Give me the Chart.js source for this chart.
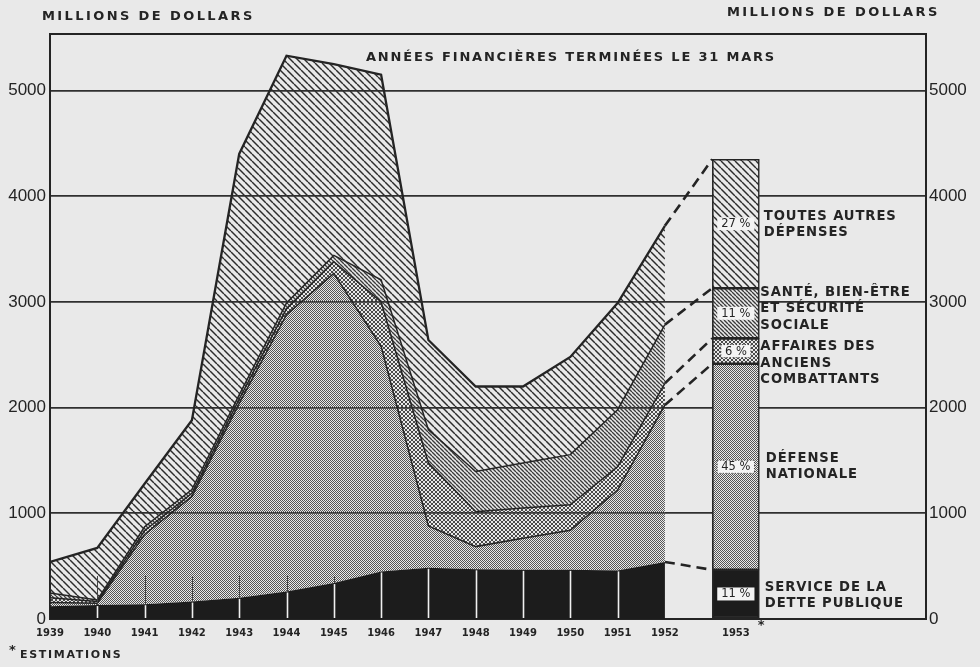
<!DOCTYPE html>
<html><head><meta charset="utf-8">
<script src="https://cdn.jsdelivr.net/npm/chart.js@4.4.1/dist/chart.umd.min.js"></script>
<style>html,body{margin:0;padding:0;background:#e9e9e9;}#wrap{width:980px;height:667px;position:relative}</style>
</head><body><div id="wrap"><canvas id="c" width="980" height="667"></canvas></div>
<script>
// ---- DATA (millions de dollars, années financières terminées le 31 mars) ----
const years    = [1939,1940,1941,1942,1943,1944,1945,1946,1947,1948,1949,1950,1951,1952];
const debt     = [ 120, 132, 140, 165, 200, 260, 340, 450, 485, 470, 465, 465, 460, 540]; // Service de la dette publique
const defense  = [  35,  18, 660, 995,1840,2620,2930,2130, 395, 215, 300, 375, 760,1485]; // Défense nationale
const veterans = [  45,  15,  35,  30,  40,  55, 110, 420, 595, 330, 285, 240, 220, 205]; // Affaires des anciens combattants
const health   = [  45,  15,  38,  35,  40,  55,  60, 210, 315, 380, 425, 475, 540, 555]; // Santé, bien-être et sécurité sociale
const others   = [ 295, 492, 407, 655,2280,2340,1810,1940, 850, 805, 725, 925,1010, 935]; // Toutes autres dépenses
// 1953 estimate bar, bottom to top: debt, defense, veterans, health, others
const estimateYear   = 1953;
const estimate1953   = [465, 1950, 240, 475, 1220];
const estimatePct    = ['11 %','45 %','6 %','11 %','27 %'];
const categoryLabels = [
  ['SERVICE DE LA','DETTE PUBLIQUE'],
  ['DÉFENSE','NATIONALE'],
  ['AFFAIRES DES','ANCIENS','COMBATTANTS'],
  ['SANTÉ, BIEN-ÊTRE','ET SÉCURITÉ','SOCIALE'],
  ['TOUTES AUTRES','DÉPENSES']
];
const yTicks = [0,1000,2000,3000,4000,5000];
const xTickLabels = years.map(String).concat([String(estimateYear)]);

// ---- styling helpers ----
const PAPER = '#e9e9e9';
const INK = '#242424';
function makePattern(kind, opaque){
  const c = document.createElement('canvas');
  const s = {coarse:7, fine:4, cross:4, stipple:2}[kind];
  c.width = c.height = s;
  const g = c.getContext('2d');
  if (opaque){ g.fillStyle = PAPER; g.fillRect(0,0,s,s); }
  if (kind==='stipple'){
    g.fillStyle = '#555'; g.fillRect(0,0,1,1); g.fillRect(1,1,1,1);
  } else {
    g.strokeStyle = kind==='coarse' ? '#2c2c2c' : (kind==='fine' ? '#3a3a3a' : '#4a4a4a');
    g.lineWidth = kind==='coarse' ? 1.45 : (kind==='fine' ? 1.35 : 1);
    g.beginPath();
    for (const k of [-1,0,1]){ g.moveTo(k*s,0); g.lineTo(k*s+s,s); }
    if (kind==='cross'){ for (const k of [-1,0,1]){ g.moveTo(k*s+s,0); g.lineTo(k*s,s); } }
    g.stroke();
  }
  return g.createPattern(c,'repeat');
}
const kinds = ['solid','stipple','cross','fine','coarse'];
const fillFor = (i,opaque) => i===0 ? '#1c1c1c' : makePattern(kinds[i], opaque);

// cumulative tops built from the series
const series = [debt, defense, veterans, health, others];
const cum = []; let run = years.map(()=>0);
series.forEach(a => { run = run.map((v,i)=>v+a[i]); cum.push(run.slice()); });
const estCum = []; let r2 = 0;
estimate1953.forEach(v => { r2 += v; estCum.push(r2); });
const barX = estimateYear + 0.5;

const datasets = [];
// stacked areas
series.forEach((a,k)=>{
  datasets.push({
    type:'line', data: years.map((yr,i)=>({x:yr, y:cum[k][i]})),
    fill: k===0 ? 'origin' : '-1', backgroundColor: fillFor(k,false),
    borderColor: k===0 ? 'rgba(0,0,0,0)' : INK, borderWidth: k===0 ? 0 : (k===4 ? 2.3 : 1.5),
    pointRadius:0, tension:0
  });
});
// 1953 bar segments
estimate1953.forEach((v,k)=>{
  datasets.push({
    type:'bar', data:[{x:barX, y:[k===0?0:estCum[k-1], estCum[k]]}],
    backgroundColor: fillFor(k,true), borderColor: INK, borderWidth:1.6, borderSkipped:false,
    barThickness:47, grouped:false
  });
});
// dashed connectors
series.forEach((a,k)=>{
  datasets.push({
    type:'line', data:[{x:years[years.length-1], y:cum[k][years.length-1]},{x:estimateYear, y:estCum[k]}],
    borderColor: INK, borderWidth:2.6, borderDash:[10,6], fill:false, pointRadius:0
  });
});

function spaced(ctx, txt, x, y, sp){
  ctx.letterSpacing = sp+'px';
  ctx.fillText(txt, x, y);
  ctx.letterSpacing = '0px';
}

const decor = {
  id:'decor',
  afterDatasetsDraw(chart){
    const {ctx, chartArea:ca, scales:{x, y}} = chart;
    ctx.save();
    // year ticks inside the bottom of the area
    for (let i=1;i<years.length-1;i++){
      const px = Math.round(x.getPixelForValue(years[i]))+0.5;
      const base = ca.bottom, top = base-43;
      const dTop = y.getPixelForValue(debt[i]);
      ctx.lineWidth = 1.6; ctx.strokeStyle = '#f0f0f0';
      ctx.beginPath(); ctx.moveTo(px, base-1); ctx.lineTo(px, dTop+1); ctx.stroke();
      if (dTop > top){
        ctx.lineWidth = 1; ctx.strokeStyle = '#444';
        ctx.beginPath(); ctx.moveTo(px, dTop); ctx.lineTo(px, top); ctx.stroke();
      }
    }
    // top frame
    ctx.strokeStyle = INK; ctx.lineWidth = 2;
    ctx.beginPath(); ctx.moveTo(ca.left, ca.top); ctx.lineTo(ca.right, ca.top); ctx.stroke();
    ctx.restore();
  },
  afterDraw(chart){
    const {ctx, chartArea:ca, scales:{x, y}} = chart;
    ctx.save();
    ctx.fillStyle = INK; ctx.textBaseline = 'middle'; ctx.textAlign = 'left';
    ctx.font = 'bold 13px "DejaVu Sans"';
    spaced(ctx, 'MILLIONS DE DOLLARS', 42, 16.5, 2.4);
    spaced(ctx, 'MILLIONS DE DOLLARS', 727, 12.5, 2.4);
    ctx.font = 'bold 13px "DejaVu Sans"';
    spaced(ctx, 'ANNÉES FINANCIÈRES TERMINÉES LE 31 MARS', 366, 57.5, 1.8);
    ctx.font = 'bold 11px "DejaVu Sans"';
    spaced(ctx, 'ESTIMATIONS', 20, 655, 1.7);
    ctx.font = 'bold 13px "DejaVu Sans"';
    ctx.fillText('*', 9, 651);
    const bx = x.getPixelForValue(barX);
    ctx.fillText('*', bx+22, 626);
    // category labels and percentages beside / in the bar
    const dyOff = [1.5, 0, 12, -4.5, 1];
    const dxOff = [5.5, 6.5, 1, 1, 4.5];
    for (let k=0;k<5;k++){
      const meta = chart.getDatasetMeta(5+k);
      const el = meta.data[0];
      const top = Math.min(el.y, el.base), bot = Math.max(el.y, el.base);
      const mid = (top+bot)/2;
      const right = el.x + el.width/2;
      const lines = categoryLabels[k];
      const lh = 16.5;
      ctx.font = 'bold 13.2px "DejaVu Sans"'; ctx.fillStyle = INK; ctx.textAlign='left';
      lines.forEach((t,j)=>{
        const yy = mid + dyOff[k] + (j-(lines.length-1)/2)*lh;
        spaced(ctx, t, right+dxOff[k], yy, 0.9);
      });
      // percentage tag
      ctx.font = '11.5px "DejaVu Sans"';
      const w = ctx.measureText(estimatePct[k]).width + 8;
      const h = 13;
      ctx.fillStyle = '#f3f3f3';
      ctx.fillRect(el.x-w/2, mid-h/2, w, h);
      if (k===1 || k===2){
        ctx.setLineDash([1,2]); ctx.strokeStyle='#333'; ctx.lineWidth=1;
        ctx.strokeRect(el.x-w/2, mid-h/2, w, h); ctx.setLineDash([]);
      }
      ctx.fillStyle = INK; ctx.textAlign='center';
      ctx.fillText(estimatePct[k], el.x, mid+0.5);
    }
    ctx.restore();
  }
};

new Chart(document.getElementById('c'), {
  type:'line',
  data:{datasets},
  options:{
    responsive:false, animation:false, devicePixelRatio:1,
    layout:{padding:{top:34,left:0,right:0,bottom:0}},
    plugins:{legend:{display:false}, tooltip:{enabled:false}},
    scales:{
      x:{type:'linear', min:1939, max:1957.52, offset:false,
        afterBuildTicks:s=>{ s.ticks = years.concat([barX]).map(v=>({value:v})); },
        ticks:{autoSkip:false, maxRotation:0, minRotation:0, padding:8, color:INK,
          font:{family:'DejaVu Sans', weight:'bold', size:10},
          callback:(v,i)=>xTickLabels[i]},
        grid:{display:false, drawTicks:false},
        border:{display:true, color:INK, width:2},
        afterFit:s=>{ s.height = 48; }
      },
      y:{type:'linear', position:'left', min:0, max:5535,
        afterBuildTicks:s=>{ s.ticks = yTicks.map(v=>({value:v})); },
        ticks:{padding:4, color:INK, font:{family:'Liberation Sans', size:17}, callback:v=>String(v)},
        grid:{color:'#303030', lineWidth:1.8, drawTicks:false},
        border:{display:true, color:INK, width:2},
        afterFit:s=>{ s.width = 50; }
      },
      y2:{type:'linear', position:'right', min:0, max:5535,
        afterBuildTicks:s=>{ s.ticks = yTicks.map(v=>({value:v})); },
        ticks:{padding:3, color:INK, font:{family:'Liberation Sans', size:17}, callback:v=>String(v)},
        grid:{display:false, drawTicks:false},
        border:{display:true, color:INK, width:2},
        afterFit:s=>{ s.width = 54; }
      }
    }
  },
  plugins:[decor]
});
</script></body></html>
